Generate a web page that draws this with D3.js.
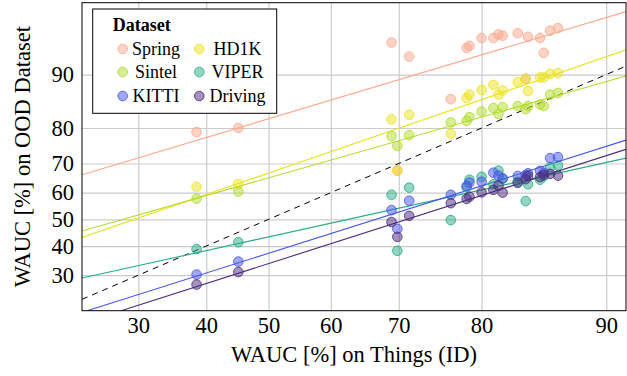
<!DOCTYPE html>
<html>
<head>
<meta charset="utf-8">
<script src="https://cdn.jsdelivr.net/npm/d3@7"></script>
<style>
body { margin: 0; background: #fff; }
svg text { font-family: "Liberation Serif", "Times New Roman", serif; fill: #000; }
</style>
</head>
<body>
<script>
var width = 627, height = 376;

var datasets = ["Spring", "HD1K", "Sintel", "VIPER", "KITTI", "Driving"];
var colors = ["#fca88c", "#ebe41e", "#b2dc2c", "#26ad85", "#4454ea", "#4a2a7c"];

// WAUC on Things (ID), one value per model
var thingsWauc = [38.5, 45.1, 69.0, 69.8, 71.4, 76.6, 78.4, 78.7, 80.0, 81.2, 81.7, 82.1, 83.5, 84.2, 84.4, 85.4, 85.7, 86.2, 86.8];

// WAUC on each OOD dataset, same model order
var spring  = [79.0, 80.0, 93.6, 67.7, 92.2, 86.1, 93.1, 93.3, 94.0, 94.0, 94.3, 94.2, 94.4, 89.4, 94.1, 94.0, 92.6, 94.6, 94.8];
var hd1k    = [62.1, 63.1, 82.0, 67.7, 83.0, 78.6, 86.3, 86.9, 87.7, 88.5, 86.9, 87.6, 88.9, 89.4, 87.5, 89.6, 89.6, 90.1, 90.2];
var sintel  = [57.8, 60.4, 78.0, 75.3, 78.2, 81.3, 81.7, 82.5, 83.7, 84.4, 83.2, 84.6, 84.8, 84.2, 84.8, 85.1, 84.8, 86.9, 87.2];
var viper   = [38.9, 41.4, 59.2, 38.3, 61.8, 49.7, 61.9, 64.6, 65.6, 63.0, 67.7, 65.0, 63.9, 56.9, 63.0, 64.6, 65.8, 68.8, 69.4];
var kitti   = [30.2, 34.5, 53.5, 46.4, 57.0, 59.2, 62.4, 63.6, 63.9, 67.0, 66.0, 65.0, 65.9, 66.2, 66.8, 67.6, 67.0, 71.7, 72.0];
var driving = [27.1, 31.0, 49.0, 43.4, 51.3, 56.1, 57.7, 58.5, 60.1, 61.0, 62.5, 60.0, 63.5, 64.8, 65.9, 65.5, 66.3, 66.6, 66.0];
var series = [spring, hd1k, sintel, viper, kitti, driving];

// fitted trend lines, start and end as [ID, OOD]
var trendFrom = [[22.9, 66.3], [22.9, 43.2], [22.9, 45.6], [22.9, 29.1], [23.5, 20.0], [27.7, 20.0]];
var trendTo   = [[91.1, 95.9], [91.1, 92.9], [91.1, 89.8], [91.1, 71.7], [91.1, 76.9], [91.1, 74.3]];

var ticks = [30, 40, 50, 60, 70, 80, 90];
var xDomain = [22.9, 91.1], yDomain = [20, 96.4];

var plotLeft = 82, plotRight = 626, plotTop = 2.7, plotBottom = 310.7;

function logit(v) { var p = v / 100; return Math.log(p / (1 - p)); }

// logit-spaced scale that d3.axis can use
function logitScale(domain, range) {
    var lin = d3.scaleLinear().domain(domain.map(logit)).range(range);
    var s = function(v) { return lin(logit(v)); };
    s.domain = function() { return domain; };
    s.range = function() { return lin.range(); };
    s.copy = function() { return s; };
    return s;
}

var x = logitScale(xDomain, [plotLeft, plotRight]);
var y = logitScale(yDomain, [plotBottom, plotTop]);

var svg = d3.select("body").append("svg")
    .attr("width", width)
    .attr("height", height);

svg.append("defs").append("clipPath").attr("id", "plot")
    .append("rect")
    .attr("x", plotLeft).attr("y", plotTop)
    .attr("width", plotRight - plotLeft).attr("height", plotBottom - plotTop);

// grid
var gx = svg.append("g")
    .attr("transform", "translate(0," + plotBottom + ")")
    .call(d3.axisBottom(x).tickValues(ticks).tickSize(-(plotBottom - plotTop)).tickFormat(""));
var gy = svg.append("g")
    .attr("transform", "translate(" + plotLeft + ",0)")
    .call(d3.axisLeft(y).tickValues(ticks).tickSize(-(plotRight - plotLeft)).tickFormat(""));
[gx, gy].forEach(function(g) {
    g.select(".domain").remove();
    g.selectAll("line").attr("stroke", "#cbcbcb").attr("stroke-width", 1.2);
});

var plot = svg.append("g").attr("clip-path", "url(#plot)");

var line = d3.line()
    .x(function(d) { return x(d[0]); })
    .y(function(d) { return y(d[1]); });

// y = x reference
plot.append("path")
    .attr("d", line([[xDomain[0], xDomain[0]], [xDomain[1], xDomain[1]]]))
    .attr("fill", "none")
    .attr("stroke", "#000")
    .attr("stroke-width", 1)
    .attr("stroke-dasharray", "6,5");

datasets.forEach(function(name, i) {
    plot.append("path")
        .attr("d", line([trendFrom[i], trendTo[i]]))
        .attr("fill", "none")
        .attr("stroke", colors[i])
        .attr("stroke-width", 1.1);
});

datasets.forEach(function(name, i) {
    plot.append("g").selectAll("circle")
        .data(series[i])
        .enter()
        .append("circle")
        .attr("cx", function(d, j) { return x(thingsWauc[j]); })
        .attr("cy", function(d) { return y(d); })
        .attr("r", 4.8)
        .attr("fill", colors[i])
        .attr("fill-opacity", 0.5)
        .attr("stroke", colors[i])
        .attr("stroke-opacity", 0.8)
        .attr("stroke-width", 1);
});

// frame
svg.append("rect")
    .attr("x", plotLeft).attr("y", plotTop)
    .attr("width", plotRight - plotLeft).attr("height", plotBottom - plotTop)
    .attr("fill", "none")
    .attr("stroke", "#000")
    .attr("stroke-width", 1);

// tick labels
var ax = svg.append("g")
    .attr("transform", "translate(0," + plotBottom + ")")
    .call(d3.axisBottom(x).tickValues(ticks).tickSize(0).tickPadding(6));
var ay = svg.append("g")
    .attr("transform", "translate(" + plotLeft + ",0)")
    .call(d3.axisLeft(y).tickValues(ticks).tickSize(0).tickPadding(8));
[ax, ay].forEach(function(g) {
    g.select(".domain").remove();
    g.selectAll("text")
        .style("font-family", "'Liberation Serif', serif")
        .style("font-size", "22.5px");
});

svg.append("text")
    .attr("x", (plotLeft + plotRight) / 2)
    .attr("y", 362)
    .attr("text-anchor", "middle")
    .style("font-size", "22.5px")
    .text("WAUC [%] on Things (ID)");

svg.append("text")
    .attr("transform", "translate(30," + ((plotTop + plotBottom) / 2) + ") rotate(-90)")
    .attr("text-anchor", "middle")
    .style("font-size", "22.5px")
    .text("WAUC [%] on OOD Dataset");

// legend
var legend = svg.append("g");
legend.append("rect")
    .attr("x", 92.7).attr("y", 9)
    .attr("width", 184).attr("height", 104.3)
    .attr("fill", "#fff")
    .attr("stroke", "#000")
    .attr("stroke-width", 1);
legend.append("text")
    .attr("x", 112.7).attr("y", 30.5)
    .style("font-size", "18px")
    .style("font-weight", "bold")
    .text("Dataset");

var rowY = [49, 72, 96];
var markX = [122.7, 199.3], textX = [156, 237.5];
datasets.forEach(function(name, k) {
    var col = k % 2, row = Math.floor(k / 2);
    legend.append("circle")
        .attr("cx", markX[col]).attr("cy", rowY[row])
        .attr("r", 4.8)
        .attr("fill", colors[k])
        .attr("fill-opacity", 0.5)
        .attr("stroke", colors[k])
        .attr("stroke-opacity", 0.8);
    legend.append("text")
        .attr("x", textX[col]).attr("y", rowY[row] + 5.5)
        .attr("text-anchor", "middle")
        .style("font-size", "18px")
        .text(name);
});
</script>
</body>
</html>
